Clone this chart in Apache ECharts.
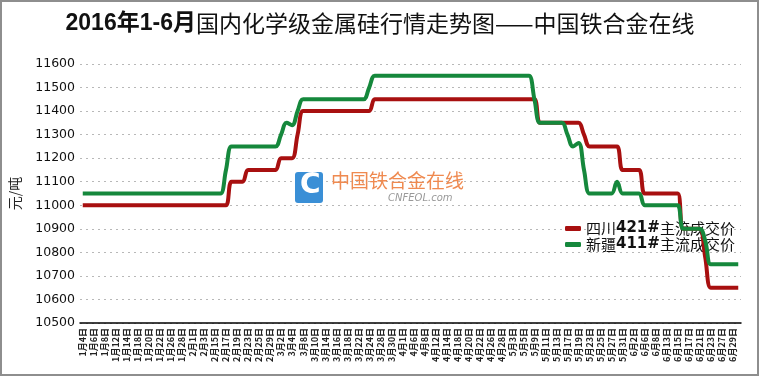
<!DOCTYPE html>
<html lang="zh">
<head>
<meta charset="utf-8">
<title>金属硅行情走势图</title>
<script src="https://cdn.jsdelivr.net/npm/echarts@6/dist/echarts.min.js"></script>
<style>
  html, body { margin: 0; padding: 0; background: #fff; }
  #main { width: 760px; height: 377px; }
</style>
</head>
<body>
<div id="main"></div>
<script type="text/javascript">
// 交易日
var dates = [
  '1月4日','1月5日','1月6日','1月7日','1月8日','1月11日','1月12日','1月13日','1月14日','1月15日',
  '1月18日','1月19日','1月20日','1月21日','1月22日','1月25日','1月26日','1月27日','1月28日','1月29日',
  '2月1日','2月2日','2月3日','2月4日','2月15日','2月16日','2月17日','2月18日','2月19日','2月22日',
  '2月23日','2月24日','2月25日','2月26日','2月29日','3月1日','3月2日','3月3日','3月4日','3月7日',
  '3月8日','3月9日','3月10日','3月11日','3月14日','3月15日','3月16日','3月17日','3月18日','3月21日',
  '3月22日','3月23日','3月24日','3月25日','3月28日','3月29日','3月30日','3月31日','4月1日','4月5日',
  '4月6日','4月7日','4月8日','4月11日','4月12日','4月13日','4月14日','4月15日','4月18日','4月19日',
  '4月20日','4月21日','4月22日','4月25日','4月26日','4月27日','4月28日','4月29日','5月3日','5月4日',
  '5月5日','5月6日','5月9日','5月10日','5月11日','5月12日','5月13日','5月16日','5月17日','5月18日',
  '5月19日','5月20日','5月23日','5月24日','5月25日','5月26日','5月27日','5月30日','5月31日','6月1日',
  '6月2日','6月3日','6月6日','6月7日','6月8日','6月12日','6月13日','6月14日','6月15日','6月16日',
  '6月17日','6月20日','6月21日','6月22日','6月23日','6月24日','6月27日','6月28日','6月29日','6月30日'
];

// 四川421#
var sichuan = [
  11000,11000,11000,11000,11000,11000,11000,11000,11000,11000,
  11000,11000,11000,11000,11000,11000,11000,11000,11000,11000,
  11000,11000,11000,11000,11000,11000,11000,11100,11100,11100,
  11150,11150,11150,11150,11150,11150,11200,11200,11200,11300,
  11400,11400,11400,11400,11400,11400,11400,11400,11400,11400,
  11400,11400,11400,11450,11450,11450,11450,11450,11450,11450,
  11450,11450,11450,11450,11450,11450,11450,11450,11450,11450,
  11450,11450,11450,11450,11450,11450,11450,11450,11450,11450,
  11450,11450,11450,11350,11350,11350,11350,11350,11350,11350,
  11350,11300,11250,11250,11250,11250,11250,11250,11150,11150,
  11150,11150,11050,11050,11050,11050,11050,11050,11050,10900,
  10900,10900,10900,10780,10650,10650,10650,10650,10650,10650
];

// 新疆411#
var xinjiang = [
  11050,11050,11050,11050,11050,11050,11050,11050,11050,11050,
  11050,11050,11050,11050,11050,11050,11050,11050,11050,11050,
  11050,11050,11050,11050,11050,11050,11150,11250,11250,11250,
  11250,11250,11250,11250,11250,11250,11300,11350,11340,11400,
  11450,11450,11450,11450,11450,11450,11450,11450,11450,11450,
  11450,11450,11500,11550,11550,11550,11550,11550,11550,11550,
  11550,11550,11550,11550,11550,11550,11550,11550,11550,11550,
  11550,11550,11550,11550,11550,11550,11550,11550,11550,11550,
  11550,11550,11450,11350,11350,11350,11350,11350,11300,11250,
  11265,11150,11050,11050,11050,11050,11050,11100,11050,11050,
  11050,11050,11000,11000,11000,11000,11000,11000,11000,10900,
  10900,10900,10900,10850,10750,10750,10750,10750,10750,10750
];

var seriesNames = ['四川421#主流成交价', '新疆411#主流成交价'];
var seriesColors = ['#a81010', '#15883c'];

var myChart = echarts.init(document.getElementById('main'));

var option = {
    animation: false,
    backgroundColor: '#fff',
    title: {
        text: '{b|2016年1-6月}{n|国内化学级金属硅行情走势图——中国铁合金在线}',
        left: 'center',
        top: 7,
        textStyle: {
            rich: {
                b: { fontSize: 23, fontWeight: 'bold', color: '#111', fontFamily: 'Liberation Sans, Noto Sans CJK SC' },
                n: { fontSize: 23, fontWeight: 'normal', color: '#111', fontFamily: 'Noto Sans CJK SC' }
            }
        }
    },
    legend: {
        data: seriesNames,
        orient: 'vertical',
        left: 560,
        top: 216,
        z: 1,
        itemGap: 1,
        itemWidth: 16,
        itemHeight: 5,
        icon: 'roundRect',
        formatter: function (name) {
            return name.replace(/(\d+#)/, '{d|$1}');
        },
        textStyle: {
            fontSize: 15,
            color: '#111',
            fontFamily: 'Noto Sans CJK SC',
            rich: {
                d: { fontSize: 15, fontWeight: 'bold', color: '#111', fontFamily: 'DejaVu Sans' }
            }
        }
    },
    grid: {
        left: 80,
        right: 19,
        top: 64,
        bottom: 54
    },
    xAxis: {
        type: 'category',
        data: dates,
        boundaryGap: true,
        axisLine: { lineStyle: { color: '#000', width: 1.5 } },
        axisTick: { interval: 0, length: 6, lineStyle: { color: '#000' } },
        axisLabel: {
            interval: 1,
            rotate: 90,
            fontSize: 9,
            fontWeight: 'bold',
            color: '#222',
            margin: 5,
            fontFamily: 'Noto Sans CJK SC'
        },
        splitLine: { show: false }
    },
    yAxis: {
        type: 'value',
        min: 10500,
        max: 11600,
        interval: 100,
        name: '元/吨',
        nameLocation: 'middle',
        nameRotate: 90,
        nameGap: 58,
        nameTextStyle: { fontSize: 14, color: '#222', fontFamily: 'Noto Sans CJK SC' },
        axisLine: { show: false },
        axisTick: { show: false },
        axisLabel: {
            fontSize: 12.5,
            color: '#111',
            margin: 5,
            fontFamily: 'DejaVu Sans',
            formatter: function (v) { return String(v); }
        },
        splitLine: { lineStyle: { color: '#b8b8b8', type: [2, 4], width: 1 } }
    },
    graphic: [
        {
            type: 'rect',
            shape: { x: 1, y: 1, width: 757, height: 374 },
            style: { fill: 'none', stroke: '#8e8e8e', lineWidth: 2 },
            z: 10
        },
        {
            type: 'rect',
            shape: { x: 295, y: 172, width: 28, height: 31, r: 3 },
            style: { fill: '#3a8fd6' },
            z: 1
        },
        {
            type: 'text',
            x: 300,
            y: 172,
            style: { text: 'C', fontSize: 28, fontWeight: 'bold', fill: '#fff', fontFamily: 'DejaVu Sans' },
            z: 1
        },
        {
            type: 'text',
            x: 331,
            y: 171,
            style: { text: '中国铁合金在线', fontSize: 19, fill: '#ef8a50', fontFamily: 'Noto Sans CJK SC' },
            z: 1
        },
        {
            type: 'text',
            x: 388,
            y: 193,
            style: { text: 'CNFEOL.com', fontSize: 10, fontStyle: 'italic', fill: '#999', fontFamily: 'DejaVu Sans' },
            z: 1
        }
    ],
    series: [
        {
            name: seriesNames[0],
            type: 'line',
            data: sichuan,
            smooth: 0.4,
            symbol: 'none',
            z: 3,
            itemStyle: { color: seriesColors[0] },
            lineStyle: { color: seriesColors[0], width: 4 }
        },
        {
            name: seriesNames[1],
            type: 'line',
            data: xinjiang,
            smooth: 0.4,
            symbol: 'none',
            z: 4,
            itemStyle: { color: seriesColors[1] },
            lineStyle: { color: seriesColors[1], width: 4 }
        }
    ]
};

myChart.setOption(option);
</script>
</body>
</html>
